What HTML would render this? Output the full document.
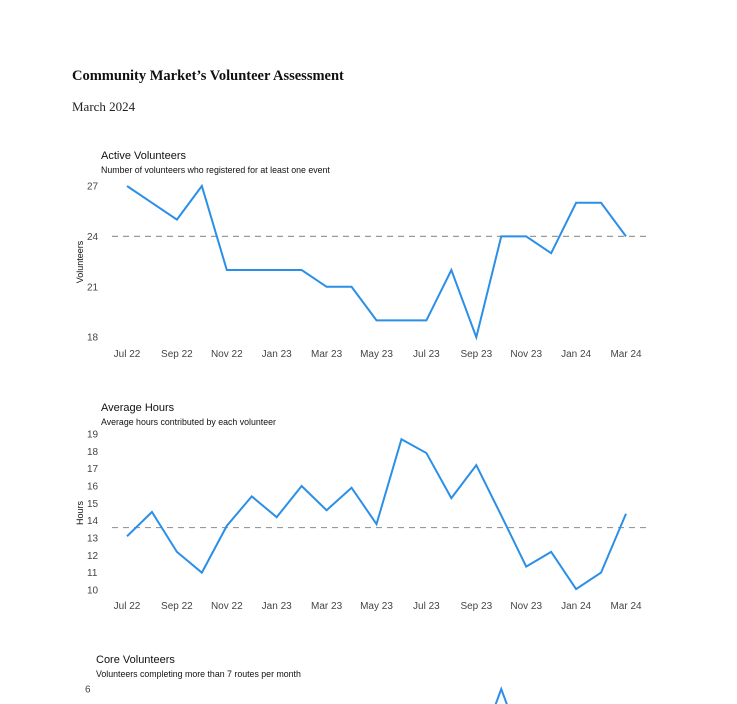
<!DOCTYPE html>
<html><head><meta charset="utf-8">
<style>
html,body{margin:0;padding:0;background:#fff;width:737px;height:704px;overflow:hidden}
svg{display:block;overflow:hidden}
.s{font-family:"Liberation Sans",sans-serif}
.serif{font-family:"Liberation Serif",serif}
</style></head>
<body>
<svg id="svg" width="737" height="704" viewBox="0 0 737 704" xmlns="http://www.w3.org/2000/svg">
<defs><clipPath id="frame"><rect x="0" y="0" width="737" height="704"/></clipPath></defs>
<text class="serif" x="72" y="80" font-size="14.5" font-weight="bold" fill="#111">Community Market’s Volunteer Assessment</text>
<text class="serif" x="72" y="111" font-size="13" fill="#222">March 2024</text>
<g id="c1"></g>
<g id="c2"></g>
<g id="c3" clip-path="url(#frame)"></g>
</svg>
<script>
const months = ["Jul 22","Aug 22","Sep 22","Oct 22","Nov 22","Dec 22","Jan 23","Feb 23","Mar 23","Apr 23","May 23","Jun 23","Jul 23","Aug 23","Sep 23","Oct 23","Nov 23","Dec 23","Jan 24","Feb 24","Mar 24"];
const xTickLabels = ["Jul 22","Sep 22","Nov 22","Jan 23","Mar 23","May 23","Jul 23","Sep 23","Nov 23","Jan 24","Mar 24"];
const activeVolunteers = [27,26,25,27,22,22,22,22,21,21,19,19,19,22,18,24,24,23,26,26,24];
const activeTicks = [18,21,24,27];
const activeRef = 24;
const avgHours = [13.1,14.5,12.2,11.0,13.7,15.4,14.2,16.0,14.6,15.9,13.8,18.7,17.9,15.3,17.2,14.3,11.35,12.2,10.05,11.0,14.4];
const hoursTicks = [10,11,12,13,14,15,16,17,18,19];
const hoursRef = 13.6;
const coreMonths = ["Sep 23","Oct 23","Nov 23"];
const coreVolunteers = [2,6,2];
const coreTicks = [6];

const NS="http://www.w3.org/2000/svg";
function mk(parent,tag,attrs,text){const e=document.createElementNS(NS,tag);for(const k in attrs)e.setAttribute(k,attrs[k]);if(text!==undefined)e.textContent=text;parent.appendChild(e);return e;}
const xScale = m => 127 + months.indexOf(m)*24.95;

function chart(g,o){
  const y = v => o.y0 + (v-o.v0)*o.k;
  let t=mk(g,"text",{x:o.tx,y:o.ty,"font-size":11,fill:"#111",class:"s"},o.title);
  
  
  t=mk(g,"text",{x:o.tx,y:o.ty+14,"font-size":8.8,fill:"#111",class:"s"},o.sub);
  
  
  o.ticks.forEach(v=>{
    const e=mk(g,"text",{x:o.lx,y:y(v)+3.5,"font-size":10,fill:"#444",class:"s"},v);
    
    
  });
  if(o.ylabel){
    const e=mk(g,"text",{transform:`translate(83,${o.ymid}) rotate(-90)`,"text-anchor":"middle","font-size":9,fill:"#111",class:"s"},o.ylabel);
    
    
  }
  if(o.xticks){
    xTickLabels.forEach(m=>{
      const e=mk(g,"text",{x:xScale(m),y:o.xy,"text-anchor":"middle","font-size":10,fill:"#444",class:"s"},m);
      
      
    });
  }
  if(o.ref!==undefined){
    const e=mk(g,"line",{x1:112,x2:650,y1:y(o.ref),y2:y(o.ref),stroke:"#999","stroke-width":1.2,"stroke-dasharray":"6,5"});
    
    
  }
  const pts=o.vals.map((v,i)=>xScale(o.cats[i])+","+y(v)).join(" ");
  const l=mk(g,"polyline",{points:pts,fill:"none",stroke:"#2b8fe8","stroke-width":2,"stroke-linejoin":"miter"});
  
  
}
chart(document.getElementById("c1"),{title:"Active Volunteers",sub:"Number of volunteers who registered for at least one event",tx:101,ty:159,lx:87,ticks:activeTicks,v0:27,y0:186,k:-16.8,ylabel:"Volunteers",ymid:262,xticks:true,xy:357,ref:activeRef,vals:activeVolunteers,cats:months});
chart(document.getElementById("c2"),{title:"Average Hours",sub:"Average hours contributed by each volunteer",tx:101,ty:411,lx:87,ticks:hoursTicks,v0:19,y0:434,k:-17.33,ylabel:"Hours",ymid:513,xticks:true,xy:609,ref:hoursRef,vals:avgHours,cats:months});
chart(document.getElementById("c3"),{title:"Core Volunteers",sub:"Volunteers completing more than 7 routes per month",tx:96,ty:663,lx:85,ticks:coreTicks,v0:6,y0:689,k:-17,vals:coreVolunteers,cats:coreMonths});
</script>
</body></html>
